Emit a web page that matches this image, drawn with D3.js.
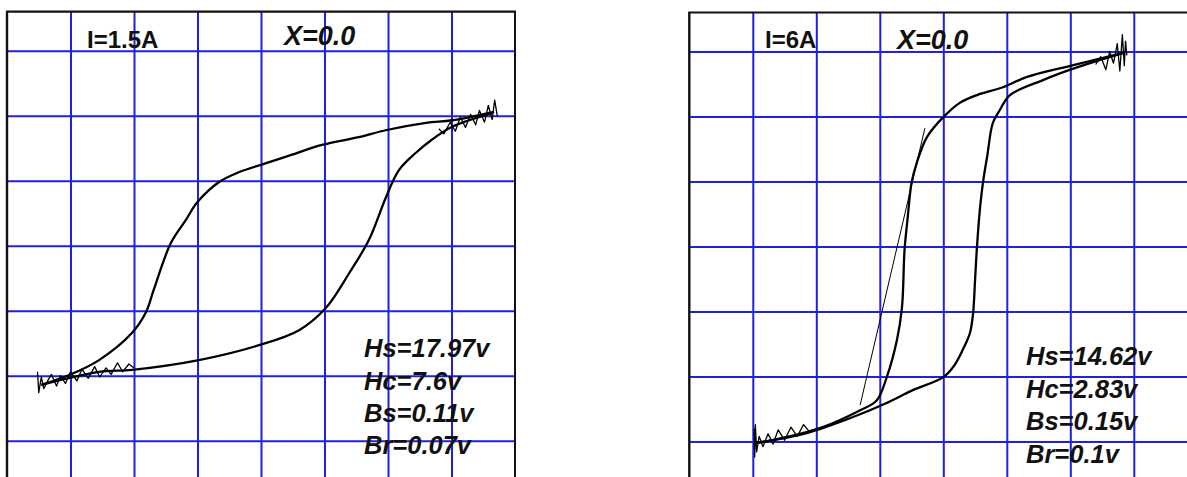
<!DOCTYPE html>
<html><head><meta charset="utf-8">
<script src="https://cdn.jsdelivr.net/npm/d3@7"></script>
<style>body{margin:0;background:#fff}svg{display:block}</style>
</head><body>
<svg id="c" width="1187" height="477"></svg>
<script>
// ---------- data ----------
const currents = ["I=1.5A", "I=6A"];
const xLabels = ["X=0.0", "X=0.0"];
const statsLeft = ["Hs=17.97v", "Hc=7.6v", "Bs=0.11v", "Br=0.07v"];
const statsRight = ["Hs=14.62v", "Hc=2.83v", "Bs=0.15v", "Br=0.1v"];
const hTicks = [-15, -10, -5, 0, 5, 10, 15];
const bTicks = [-0.15, -0.1, -0.05, 0, 0.05, 0.1, 0.15];

// left loop (I=1.5A): H in volts, B in volts
const leftUpperH = [18.35, 15.05, 13.0, 9.9, 7.7, 4.8, 2.45, 0.4, -1.75, -3.3, -5.05, -5.9, -7.1, -8.45, -9.05, -10.15, -12.75, -15.1, -17.3];
const leftUpperB = [0.103, 0.0965, 0.0945, 0.089, 0.0835, 0.0775, 0.070, 0.0635, 0.0565, 0.049, 0.033, 0.020, 0.002, -0.034, -0.051, -0.067, -0.088, -0.0995, -0.107];
const leftLowerH = [-17.3, -12.75, -10.15, -4.9, -0.15, 3.0, 5.1, 6.95, 8.5, 9.85, 10.85, 12.2, 13.45, 15.05, 18.2];
const leftLowerB = [-0.107, -0.097, -0.0955, -0.088, -0.0765, -0.065, -0.048, -0.021, 0.0045, 0.0375, 0.058, 0.0715, 0.0815, 0.0915, 0.102];
const leftNoiseLowH = [-17.6, -17.5, -17.3, -17.1, -16.8, -16.5, -16.1, -15.8, -15.4, -15.0, -14.5, -14.1, -13.6, -13.1, -12.7, -12.2, -11.8, -11.3, -10.9, -10.4, -10.0];
const leftNoiseLowB = [-0.097, -0.113, -0.101, -0.110, -0.104, -0.099, -0.108, -0.100, -0.106, -0.097, -0.104, -0.095, -0.102, -0.093, -0.101, -0.094, -0.099, -0.090, -0.097, -0.091, -0.094];
const leftNoiseHighH = [14.0, 14.4, 14.9, 15.3, 15.7, 16.1, 16.5, 16.9, 17.2, 17.6, 17.9, 18.2, 18.4, 18.6, 18.5];
const leftNoiseHighB = [0.090, 0.086, 0.095, 0.088, 0.099, 0.091, 0.101, 0.093, 0.104, 0.095, 0.108, 0.097, 0.112, 0.100, 0.106];

// right loop (I=6A)
const rightUpperH = [14.2, 10.0, 6.6, 4.7, 2.65, 1.3, 0, -1.3, -2.1, -2.5, -2.8, -3.05, -3.25, -3.65, -4.45, -5.25, -6.55, -9.5, -13.45, -14.7];
const rightUpperB = [0.149, 0.139, 0.1305, 0.1225, 0.1165, 0.1105, 0.0995, 0.084, 0.064, 0.049, 0.0225, -0.0025, -0.0465, -0.072, -0.1005, -0.1185, -0.126, -0.139, -0.149, -0.151];
const rightLowerH = [-14.7, -10.75, -6.8, -4.6, -2.4, 0, 0.9, 1.7, 2.1, 2.35, 2.5, 2.65, 2.9, 3.15, 3.45, 3.9, 4.45, 5.25, 7.85, 10.0, 12.35, 14.2];
const rightLowerB = [-0.151, -0.1435, -0.130, -0.121, -0.1105, -0.1005, -0.091, -0.076, -0.0665, -0.051, -0.026, -0.0005, 0.0305, 0.051, 0.069, 0.095, 0.105, 0.1165, 0.128, 0.136, 0.1435, 0.149];
const rightJumpH = [-6.55, -1.45];
const rightJumpB = [-0.122, 0.091];
const rightNoiseLowH = [-14.9, -14.85, -14.8, -14.7, -14.5, -14.2, -13.8, -13.4, -13.0, -12.5, -12.0, -11.5, -11.0, -10.5];
const rightNoiseLowB = [-0.140, -0.162, -0.137, -0.158, -0.146, -0.154, -0.144, -0.152, -0.141, -0.149, -0.139, -0.146, -0.137, -0.143];
const rightNoiseHighH = [12.0, 12.4, 12.8, 13.1, 13.4, 13.7, 13.9, 14.1, 14.25, 14.35, 14.45];
const rightNoiseHighB = [0.140, 0.146, 0.136, 0.150, 0.141, 0.156, 0.135, 0.163, 0.139, 0.158, 0.147];

// ---------- layout ----------
const W = 508, HALF = 234;
const panels = [
  { x0: 7, cy: 245.7, rightBorder: true, current: currents[0], xl: xLabels[0], stats: statsLeft,
    curX: 87, curY: 47.5, xlX: 284, xlY: 45, stX: 364, stY: [357, 389.5, 422, 454],
    loops: [[leftUpperH, leftUpperB], [leftLowerH, leftLowerB]],
    thin: [],
    noise: [[leftNoiseLowH, leftNoiseLowB], [leftNoiseHighH, leftNoiseHighB]] },
  { x0: 689.3, cy: 246.5, rightBorder: false, current: currents[1], xl: xLabels[1], stats: statsRight,
    curX: 765, curY: 48, xlX: 897, xlY: 49, stX: 1026, stY: [365, 397.5, 430, 462.5],
    loops: [[rightUpperH, rightUpperB], [rightLowerH, rightLowerB]],
    thin: [[rightJumpH, rightJumpB]],
    noise: [[rightNoiseLowH, rightNoiseLowB], [rightNoiseHighH, rightNoiseHighB]] }
];

const svg = d3.select("#c");
const gridColor = "#2020e0";
const font = "Liberation Sans, Arial, sans-serif";

panels.forEach(p => {
  const xs = d3.scaleLinear().domain([-20, 20]).range([p.x0, p.x0 + W]);
  const ys = d3.scaleLinear().domain([-0.18, 0.18]).range([p.cy + HALF, p.cy - HALF]);
  const top = ys(0.18), bot = ys(-0.18);
  const g = svg.append("g");

  const gx = g.append("g").attr("transform", `translate(0,${bot})`)
    .call(d3.axisBottom(xs).tickValues(hTicks).tickSize(-(bot - top)).tickFormat(""));
  const gy = g.append("g").attr("transform", `translate(${p.x0},0)`)
    .call(d3.axisLeft(ys).tickValues(bTicks).tickSize(-W).tickFormat(""));
  [gx, gy].forEach(a => {
    a.select(".domain").remove();
    a.selectAll(".tick line").attr("stroke", gridColor).attr("stroke-width", 2);
  });

  const bc = "#111";
  g.append("line").attr("x1", xs(-20) - 1).attr("x2", xs(20) + 1).attr("y1", top).attr("y2", top).attr("stroke", bc).attr("stroke-width", 2.2);
  g.append("line").attr("x1", xs(-20)).attr("x2", xs(-20)).attr("y1", top).attr("y2", bot).attr("stroke", bc).attr("stroke-width", 2.4);
  if (p.rightBorder)
    g.append("line").attr("x1", xs(20)).attr("x2", xs(20)).attr("y1", top).attr("y2", bot).attr("stroke", bc).attr("stroke-width", 2);

  const smooth = d3.line().x(d => xs(d[0])).y(d => ys(d[1])).curve(d3.curveCatmullRom.alpha(0.5));
  const straight = d3.line().x(d => xs(d[0])).y(d => ys(d[1]));
  const toPts = (hx, by) => hx.map((h, k) => [h, by[k]]);

  p.loops.forEach(([hx, by]) => {
    g.append("path").attr("d", smooth(toPts(hx, by))).attr("fill", "none")
      .attr("stroke", "#000").attr("stroke-width", 2.3).attr("stroke-linejoin", "round");
  });
  p.thin.forEach(([hx, by]) => {
    g.append("path").attr("d", straight(toPts(hx, by))).attr("fill", "none")
      .attr("stroke", "#000").attr("stroke-width", 1);
  });
  p.noise.forEach(([hx, by]) => {
    g.append("path").attr("d", straight(toPts(hx, by))).attr("fill", "none")
      .attr("stroke", "#000").attr("stroke-width", 1.3).attr("stroke-linejoin", "round");
  });

  g.append("text").attr("x", p.curX).attr("y", p.curY).text(p.current)
    .attr("font-family", font).attr("font-weight", "bold").attr("font-size", 24).attr("fill", "#111");
  g.append("text").attr("x", p.xlX).attr("y", p.xlY).text(p.xl)
    .attr("font-family", font).attr("font-weight", "bold").attr("font-style", "italic").attr("font-size", 27).attr("fill", "#111");
  p.stats.forEach((s, k) => {
    g.append("text").attr("x", p.stX).attr("y", p.stY[k]).text(s)
      .attr("font-family", font).attr("font-weight", "bold").attr("font-style", "italic").attr("font-size", 25.5).attr("fill", "#111");
  });
});
</script>
</body></html>
